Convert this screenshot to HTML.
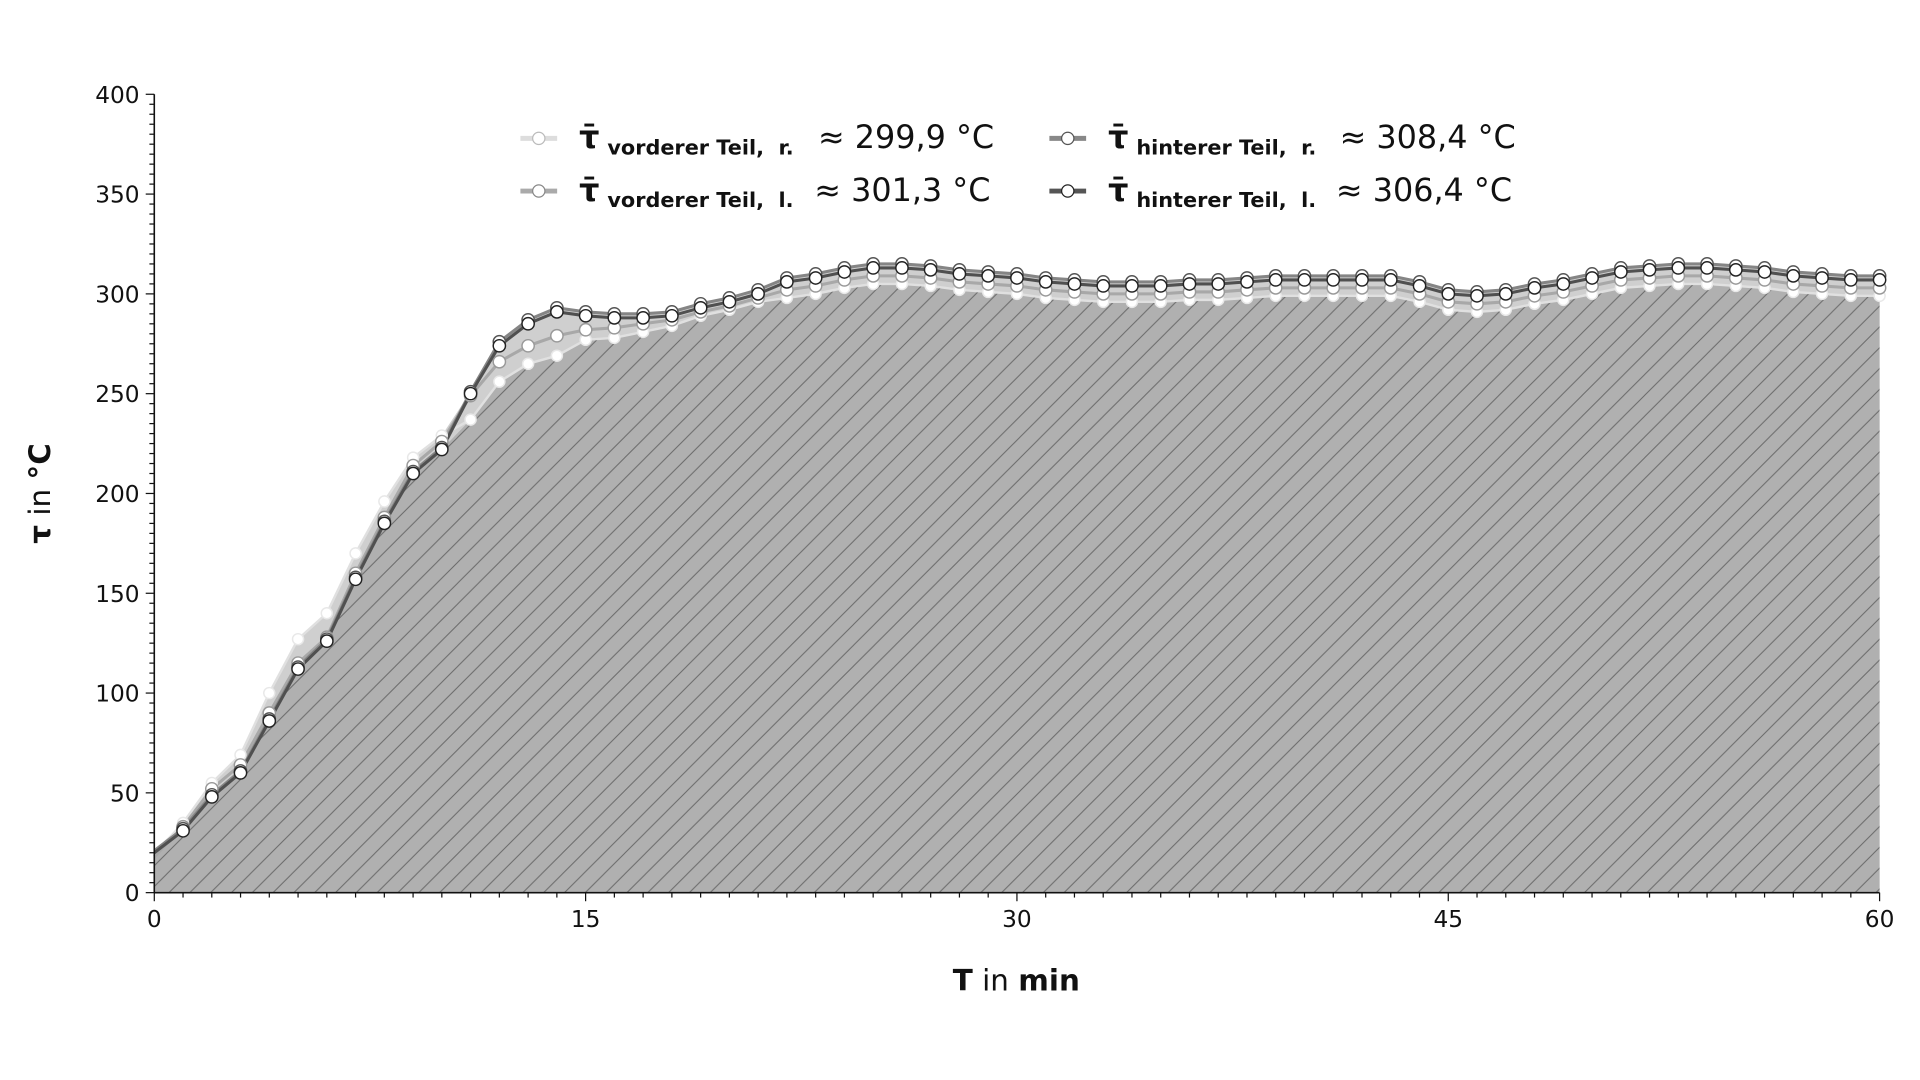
<!DOCTYPE html>
<html><head><meta charset="utf-8"><style>
html,body{margin:0;padding:0;background:#fff;}
svg{display:block;}
</style></head><body>
<svg id="s" width="1920" height="1080" viewBox="0 0 1568 882" preserveAspectRatio="none" xmlns="http://www.w3.org/2000/svg" font-family="DejaVu Sans, Liberation Sans, sans-serif">
<defs>
<pattern id="h" patternUnits="userSpaceOnUse" width="17" height="17">
<rect width="17" height="17" fill="#b0b0b0"/>
<path d="M-1,18 L18,-1 M-5,5 L5,-5 M12,22 L22,12" stroke="#6a6a6a" stroke-width="0.8"/>
</pattern>
</defs>
<g id="plot"></g>
<g id="axes"></g>
<g font-size="26" fill="#111">
<text x="473" y="121" font-weight="bold">τ̄</text>
<text x="496" y="126" font-size="17" font-weight="bold">vorderer Teil,&#160;&#160;r.</text>
<text x="668" y="121">≈ 299,9 °C</text>
<text x="473" y="164" font-weight="bold">τ̄</text>
<text x="496" y="169" font-size="17" font-weight="bold">vorderer Teil,&#160;&#160;l.</text>
<text x="665" y="164">≈ 301,3 °C</text>
<text x="905" y="121" font-weight="bold">τ̄</text>
<text x="928" y="126" font-size="17" font-weight="bold">hinterer Teil,&#160;&#160;r.</text>
<text x="1094" y="121">≈ 308,4 °C</text>
<text x="905" y="164" font-weight="bold">τ̄</text>
<text x="928" y="169" font-size="17" font-weight="bold">hinterer Teil,&#160;&#160;l.</text>
<text x="1091" y="164">≈ 306,4 °C</text>
</g>
<g>
<line x1="425" y1="113" x2="455" y2="113" stroke="#ddd" stroke-width="4"/><circle cx="440" cy="113" r="5" fill="#fff" stroke="#bbb"/>
<line x1="425" y1="156" x2="455" y2="156" stroke="#aaa" stroke-width="4"/><circle cx="440" cy="156" r="5" fill="#fff" stroke="#888"/>
<line x1="857" y1="113" x2="887" y2="113" stroke="#888" stroke-width="4"/><circle cx="872" cy="113" r="5" fill="#fff" stroke="#555"/>
<line x1="857" y1="156" x2="887" y2="156" stroke="#555" stroke-width="4"/><circle cx="872" cy="156" r="5" fill="#fff" stroke="#222"/>
</g>
<text x="830" y="809" font-size="24" text-anchor="middle" fill="#111"><tspan font-weight="bold">T</tspan> in <tspan font-weight="bold">min</tspan></text>
<text transform="translate(41,403) rotate(-90)" font-size="24" text-anchor="middle" fill="#111"><tspan font-weight="bold">τ</tspan> in <tspan font-weight="bold">°C</tspan></text>
</svg>
<script>
(function(){
var X=function(t){return 126+t*1409/60},Y=function(v){return 729-v*652/400};
var hl=[20,31,48,60,86,112,126,157,185,210,222,250,274,285,291,289,288,288,289,293,296,300,306,308,311,313,313,312,310,309,308,306,305,304,304,304,305,305,306,307,307,307,307,307,304,300,299,300,303,305,308,311,312,313,313,312,311,309,308,307,307];
var hr=[],vl=[],vr=[];
var vrEarly={1:35,2:55,3:69,4:100,5:127,6:140,7:170,8:196,9:218,10:229,11:237,12:256,13:265,14:269,15:277,16:278,17:281,18:284,19:289,20:292};
var vlEarly={1:33,2:52,3:64,4:90,5:115,6:128,7:160,8:188,9:214,10:226,11:249,12:266,13:274,14:279,15:282,16:283,17:285,18:287,19:291,20:294};
var i,k;
for(i=0;i<=60;i++){
 hr.push(i<12?hl[i]+1:hl[i]+2);
 vl.push(i in vlEarly?vlEarly[i]:(i==0?18:hl[i]-4));
 vr.push(i in vrEarly?vrEarly[i]:(i==0?19:hl[i]-8));
}
vr[21]=296;vl[21]=298;
var S=[vr,vl,hr,hl];
var tp=[],bt=[];
for(i=0;i<=60;i++){var a=S.map(function(s){return s[i];});tp.push(Math.max.apply(null,a));bt.push(Math.min.apply(null,a));}
function pts(a){return a.map(function(v,i){return X(i).toFixed(1)+","+Y(v).toFixed(1);}).join(" ");}
var g='';
g+='<polygon points="'+X(0)+','+Y(0)+' '+pts(tp)+' '+X(60)+','+Y(0)+'" fill="#cfcfcf"/>';
g+='<polygon points="'+X(0)+','+Y(0)+' '+pts(bt)+' '+X(60)+','+Y(0)+'" fill="url(#h)"/>';
var lc=['#e0e0e0','#a8a8a8','#858585','#505050'],ms=['#e8e8e8','#999','#555','#222'];
for(k=0;k<4;k++){
 g+='<polyline points="'+pts(S[k])+'" fill="none" stroke="'+lc[k]+'" stroke-width="'+(k==0?2:2.5)+'"/>';
}
for(k=0;k<4;k++){for(i=1;i<=60;i++){g+='<circle cx="'+X(i).toFixed(1)+'" cy="'+Y(S[k][i]).toFixed(1)+'" r="'+(k==0?4.5:5)+'" fill="#fff" stroke="'+ms[k]+'" stroke-width="1.2"/>';}}
document.getElementById('plot').innerHTML=g;
var ax='<line x1="126" y1="77" x2="126" y2="729" stroke="#111" stroke-width="1.3"/><line x1="126" y1="729" x2="1535" y2="729" stroke="#111" stroke-width="1.3"/>';
for(var v=0;v<=400;v+=5){var y=Y(v);var mj=v%50==0;ax+='<line x1="'+(mj?119:122)+'" y1="'+y+'" x2="126" y2="'+y+'" stroke="#111" stroke-width="1"/>';if(mj)ax+='<text x="114" y="'+(y+7)+'" font-size="19" text-anchor="end" fill="#111">'+v+'</text>';}
for(var t=0;t<=60;t++){var x=X(t);var mj2=t%15==0;ax+='<line x1="'+x+'" y1="729" x2="'+x+'" y2="'+(mj2?736:733)+'" stroke="#111" stroke-width="1"/>';if(mj2)ax+='<text x="'+x+'" y="757" font-size="19" text-anchor="middle" fill="#111">'+t+'</text>';}
document.getElementById('axes').innerHTML=ax;
})();
</script>
</body></html>
